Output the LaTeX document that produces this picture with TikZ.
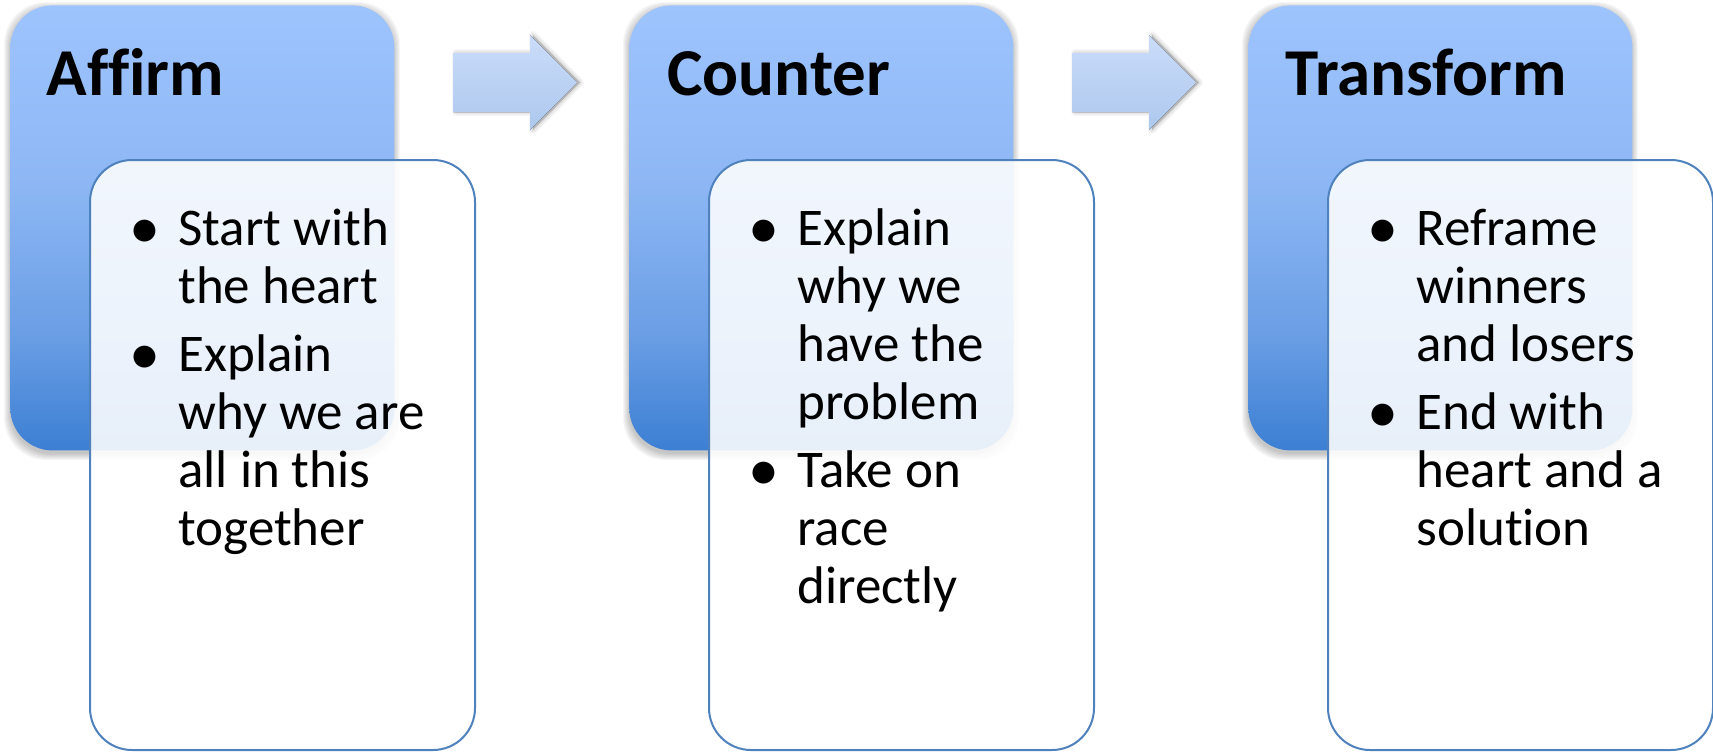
\documentclass[tikz,border=0pt]{standalone}
\usepackage{fontspec}
\setmainfont[Ligatures=NoCommon]{Carlito}
\usetikzlibrary{calc}

\definecolor{btop}{HTML}{9EC4FE}
\definecolor{bmid}{HTML}{8DB7F4}
\definecolor{bmid2}{HTML}{6A9EE5}
\definecolor{bbot}{HTML}{3C7FD3}
\definecolor{rimblue}{HTML}{4F81BD}
\definecolor{atop}{HTML}{CADCF9}
\definecolor{abot}{HTML}{ADC8EE}

% light-to-dark blue fill of the stage panels (0bp = bottom)
\pgfdeclareverticalshading{stageshade}{100bp}{%
  color(0bp)=(bbot); color(25bp)=(bbot); color(38bp)=(bmid2);
  color(55bp)=(bmid); color(75bp)=(btop); color(100bp)=(btop)}

% block arrow between two stages, #1 = left end of the shaft
\newcommand\blockarrowpath[1]{%
  (#1,53) -- (#1+77,53) -- (#1+77,35) -- (#1+124,82.5) -- (#1+77,130)
  -- (#1+77,112) -- (#1,112) -- cycle}

\begin{document}
\begin{tikzpicture}[x=0.5pt,y=-0.5pt,
  stagebox/.style={shading=stageshade, rounded corners=21pt,
    minimum width=192pt, minimum height=222.5pt, inner sep=0pt,
    anchor=north west},
  cardbox/.style={fill=white, fill opacity=0.88, draw=rimblue,
    line width=1pt, rounded corners=21pt, minimum width=192.5pt,
    minimum height=295pt, inner sep=0pt, anchor=north west},
  stagetitle/.style={anchor=base west, inner sep=0pt,
    font=\fontsize{33.5pt}{40pt}\selectfont\bfseries},
  cardtext/.style={anchor=base west, inner sep=0pt, align=left,
    font=\fontsize{26.5pt}{29pt}\selectfont},
  softshadow/.style={fill=black, opacity=0.035},
  arrowfill/.style={top color=atop, bottom color=abot}]
\useasboundingbox (0,0) rectangle (1713,751);

% soft shadows under the stage panels
\foreach \bx in {10,629,1248}{
  \foreach \e in {7,6,...,1}{
    \fill[softshadow, rounded corners=21pt]
      (\bx-\e+1,9-\e) rectangle (\bx+384+\e-1,450+\e+3);
  }
}

% stage panels
\node[stagebox] (s1) at (10,5) {};
\node[stagebox] (s2) at (629,5) {};
\node[stagebox] (s3) at (1248,5) {};

% block arrows with their shadows
\foreach \ax in {453,1072}{
  \foreach \e in {4,3,2,1}{
    \fill[softshadow, opacity=0.05, line join=round, draw=black,
      draw opacity=0.03, line width=\e pt]
      \blockarrowpath{\ax+3};
  }
  \fill[arrowfill] \blockarrowpath{\ax};
}

% detail cards
\node[cardbox] (c1) at (89,159) {};
\node[cardbox] (c2) at (708,159) {};
\node[cardbox] (c3) at (1327,159) {};

% stage titles
\node[stagetitle] (t1) at (46,95) {Affirm};
\node[stagetitle] (t2) at (667,95) {Counter};
\node[stagetitle] (t3) at (1285,95) {Transform};

% card texts
\newcommand\bul{\makebox[24.5pt][l]{\raisebox{-1.8pt}{\fontsize{31pt}{29pt}\selectfont\textbullet}}}
\node[cardtext] (l1) at (129,245) {%
  \begin{tabular}[t]{@{}l@{}l@{}}
  \bul & Start with\\
       & the heart\\[5pt]
  \bul & Explain\\
       & why we are\\
       & all in this\\
       & together
  \end{tabular}};
\node[cardtext] (l2) at (748,245) {%
  \begin{tabular}[t]{@{}l@{}l@{}}
  \bul & Explain\\
       & why we\\
       & have the\\
       & problem\\[5pt]
  \bul & Take on\\
       & race\\
       & directly
  \end{tabular}};
\node[cardtext] (l3) at (1367,245) {%
  \begin{tabular}[t]{@{}l@{}l@{}}
  \bul & Reframe\\
       & winners\\
       & and losers\\[5pt]
  \bul & End with\\
       & heart and a\\
       & solution
  \end{tabular}};
\end{tikzpicture}
\end{document}
